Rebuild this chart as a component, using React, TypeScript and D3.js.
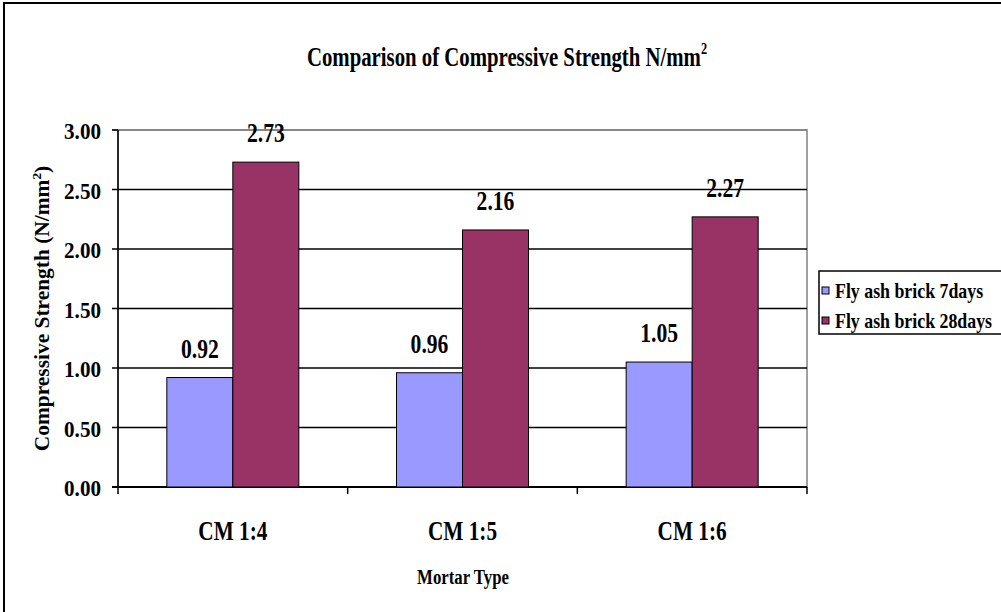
import React from "react";
import * as d3 from "d3";

const categories = ["CM 1:4", "CM 1:5", "CM 1:6"];
const seriesNames = ["Fly ash brick 7days", "Fly ash brick 28days"];
const days7 = [0.92, 0.96, 1.05];
const days28 = [2.73, 2.16, 2.27];
const yTicks = [0, 0.5, 1, 1.5, 2, 2.5, 3];
const colors = ["#9999FF", "#993366"];

const W = 1001, H = 612;
const L = 118, R = 807, T = 130, B = 487;
const FONT = '"Liberation Serif", Tinos, "Times New Roman", Times, "Nimbus Roman", "DejaVu Serif", serif';

function T2({ x, y, sx = 0.76, size, anchor = "start", rotate = 0, children }: any) {
  return (
    <text
      transform={`translate(${x},${y}) rotate(${rotate}) scale(${sx},1)`}
      textAnchor={anchor}
      fontFamily={FONT}
      fontWeight="bold"
      fontSize={size}
    >
      {children}
    </text>
  );
}

export default function App() {
  const x = d3.scaleBand<string>().domain(categories).range([L, R]).paddingInner(0).paddingOuter(0);
  const inner = d3.scaleBand<string>().domain(seriesNames).range([0, x.bandwidth()]).paddingInner(0).paddingOuter(0.74);
  const y = d3.scaleLinear().domain([0, 3]).range([B, T]);
  const series = [days7, days28];

  return (
    <svg width={W} height={H} style={{ position: "absolute", left: 0, top: 0, background: "#fff" }}>
      <rect x={4} y={3} width={W + 10} height={H + 10} fill="#fff" stroke="#000" strokeWidth={2} />
      <T2 x={507} y={66} size={27} sx={0.77} anchor="middle">
        Comparison of Compressive Strength N/mm<tspan dy={-12} fontSize={16}>2</tspan>
      </T2>
      <rect x={L} y={T} width={R - L} height={B - T} fill="none" stroke="#808080" strokeWidth={1.5} />
      {yTicks.map((t) => (
        <g key={t}>
          <line x1={L - 6} x2={R} y1={y(t)} y2={y(t)} stroke={t === 3 ? "#808080" : "#000"} strokeWidth={t === 0 ? 2 : 1.5} />
          <T2 x={101} y={y(t) + 9} size={24} sx={0.88} anchor="end">{t.toFixed(2)}</T2>
        </g>
      ))}
      <line x1={L - 6} x2={L} y1={T} y2={T} stroke="#000" strokeWidth={1.5} />
      <line x1={L} x2={L} y1={T} y2={B} stroke="#000" strokeWidth={1.5} />
      {[...categories.map((c) => x(c) as number), R].map((px, i) => (
        <line key={i} x1={px} x2={px} y1={B} y2={B + 7} stroke="#000" strokeWidth={1.5} />
      ))}
      {categories.map((c, ci) => (
        <g key={c}>
          {seriesNames.map((s, si) => {
            const v = series[si][ci];
            const bx = (x(c) as number) + (inner(s) as number);
            return (
              <g key={s}>
                <rect x={bx} y={y(v)} width={inner.bandwidth()} height={B - y(v)} fill={colors[si]} stroke="#000" strokeWidth={1} />
                <T2 x={bx + inner.bandwidth() / 2} y={y(v) - 20} size={27} sx={0.8} anchor="middle">{v.toFixed(2)}</T2>
              </g>
            );
          })}
          <T2 x={(x(c) as number) + x.bandwidth() / 2} y={540} size={28} sx={0.76} anchor="middle">{c}</T2>
        </g>
      ))}
      <T2 x={463} y={584} size={21} sx={0.8} anchor="middle">Mortar Type</T2>
      <T2 x={49} y={(T + B) / 2} size={21} sx={1.02} anchor="middle" rotate={-90}>
        Compressive Strength (N/mm<tspan dy={-8} fontSize={13}>2</tspan><tspan dy={8}>)</tspan>
      </T2>
      <rect x={819} y={271} width={185} height={63} fill="#fff" stroke="#000" strokeWidth={1.5} />
      {seriesNames.map((s, i) => (
        <g key={s}>
          <rect x={822} y={287 + i * 30} width={7} height={7} fill={colors[i]} stroke="#000" strokeWidth={1} />
          <T2 x={835} y={298 + i * 30} size={21} sx={0.85}>{s}</T2>
        </g>
      ))}
    </svg>
  );
}
